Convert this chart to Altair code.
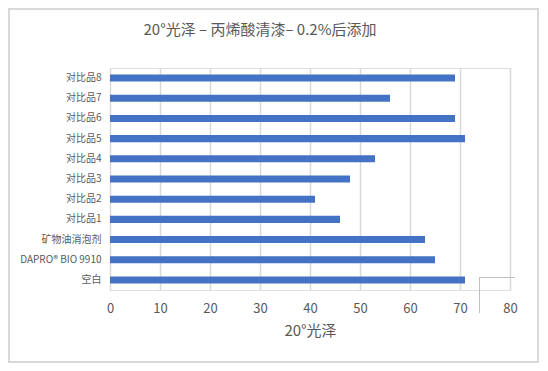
import altair as alt
import pandas as pd

categories = ["对比品8", "对比品7", "对比品6", "对比品5", "对比品4", "对比品3",
              "对比品2", "对比品1", "矿物油消泡剂", "DAPRO® BIO 9910", "空白"]
values = [69, 56, 69, 71, 53, 48, 41, 46, 63, 65, 71]
x_ticks = [0, 10, 20, 30, 40, 50, 60, 70, 80]

df = pd.DataFrame({"cat": categories, "val": values})
FONT = "Noto Sans CJK SC"
GRAY = "#595959"

bars = alt.Chart(df).mark_bar(color="#4472C4").encode(
    x=alt.X("val:Q",
            scale=alt.Scale(domain=[0, 80], nice=False),
            axis=alt.Axis(values=x_ticks, title="20°光泽", grid=True,
                          gridColor="#d9d9d9", gridWidth=1.5,
                          domain=False, ticks=False, labelPadding=12,
                          labelFlush=False,
                          labelFontSize=13, labelColor=GRAY, labelFont=FONT,
                          titleFontSize=15, titleColor=GRAY, titleFont=FONT,
                          titleFontWeight="normal", titlePadding=8)),
    y=alt.Y("cat:N", sort=categories,
            scale=alt.Scale(paddingInner=0.65, paddingOuter=0.325),
            axis=alt.Axis(title=None, domain=False, ticks=False, grid=False,
                          labelPadding=9, labelFontSize=10, labelColor=GRAY,
                          labelFont=FONT)),
)

border = alt.Chart(df).mark_rect(fill=None, stroke="#d9d9d9", strokeWidth=2).encode(
    x=alt.value(-101), x2=alt.value(428), y=alt.value(-59), y2=alt.value(294)
)
bracket_v = alt.Chart(df).mark_rule(color="#bfbfbf", strokeWidth=1).encode(
    x=alt.value(369.5), y=alt.value(209.5), y2=alt.value(245)
)
bracket_h = alt.Chart(df).mark_rule(color="#bfbfbf", strokeWidth=1).encode(
    x=alt.value(369.5), x2=alt.value(405), y=alt.value(209.5)
)

chart = alt.layer(border, bars, bracket_v, bracket_h).properties(
    width=400, height=222,
    autosize=alt.AutoSizeParams(type="none"),
    padding={"left": 102, "top": 60, "right": 30, "bottom": 73},
    title=alt.TitleParams("20°光泽 – 丙烯酸清漆– 0.2%后添加", font=FONT,
                          fontSize=15, fontWeight="normal", color=GRAY,
                          anchor="middle", dx=-50, offset=-30),
).configure_view(stroke=None).configure(background="white")

chart.save("out.html", embed_options={"renderer": "svg", "actions": False})
